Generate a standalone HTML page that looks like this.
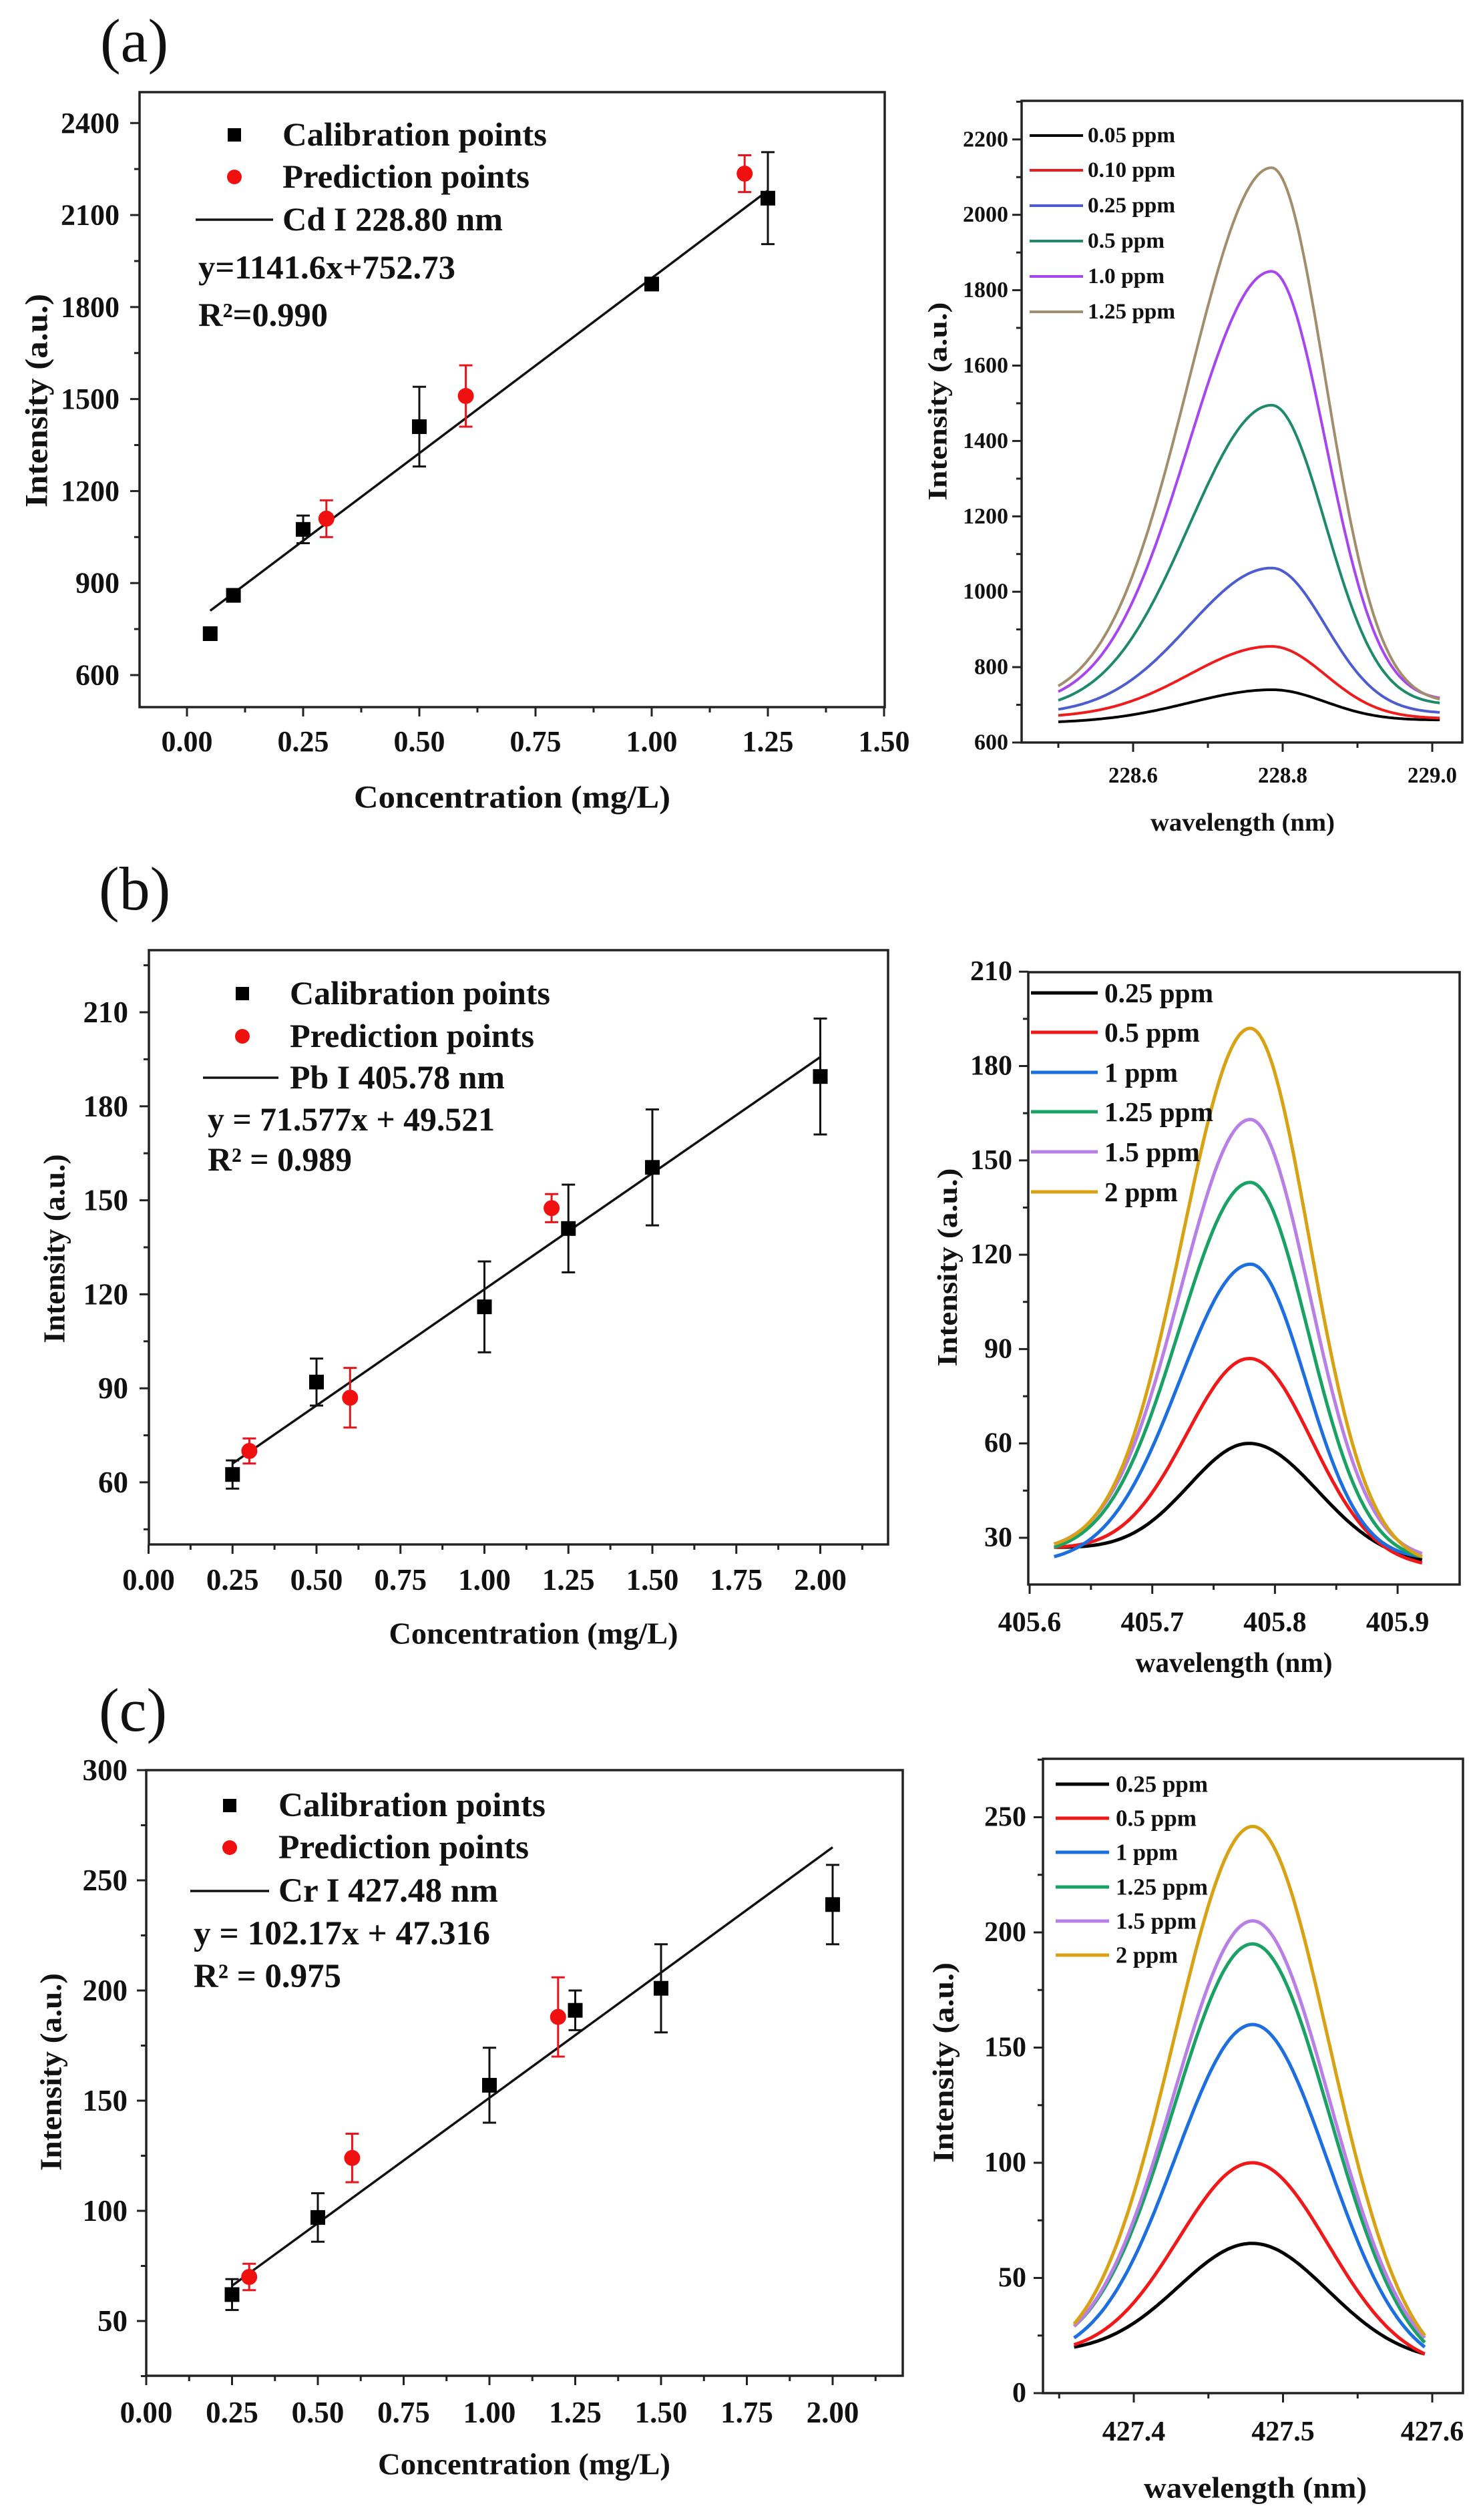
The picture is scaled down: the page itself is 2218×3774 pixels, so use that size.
<!DOCTYPE html>
<html><head><meta charset="utf-8">
<style>
html,body{margin:0;padding:0;background:#fff;}
svg{display:block;}
text{font-family:"Liberation Serif","DejaVu Serif",serif;font-weight:bold;fill:#111;}
</style></head>
<body>
<svg id="s" xmlns="http://www.w3.org/2000/svg" width="2218" height="3774" viewBox="0 0 2218 3774">
<rect width="2218" height="3774" fill="#fff"/>
<text x="150" y="92" font-size="92" style="font-weight:normal">(a)</text>
<text x="148" y="1362" font-size="92" style="font-weight:normal">(b)</text>
<text x="148" y="2592" font-size="92" style="font-weight:normal">(c)</text>
</svg>
<script>
var S=document.getElementById('s'),NS='http://www.w3.org/2000/svg';
function el(t,a,txt){var e=document.createElementNS(NS,t);for(var k in a)e.setAttribute(k,a[k]);if(txt!==undefined)e.textContent=txt;S.appendChild(e);return e;}
function line(x1,y1,x2,y2,c,w){el('line',{x1:x1,y1:y1,x2:x2,y2:y2,stroke:c||'#222','stroke-width':w||3});}
function txt(x,y,s,fs,o){o=o||{};var a={x:x,y:y,'font-size':fs};if(o.anchor)a['text-anchor']=o.anchor;if(o.db)a['dominant-baseline']=o.db;if(o.len){a.textLength=o.len;a.lengthAdjust='spacingAndGlyphs';}if(o.fill)a.fill=o.fill;if(o.tr)a.transform=o.tr;return el('text',a,s);}
function axes(c){
 el('rect',{x:c.L,y:c.T,width:c.R-c.L,height:c.B-c.T,fill:'none',stroke:'#222','stroke-width':3.5});
 c.xt.forEach(function(v){var x=c.xm(v);line(x,c.B,x,c.B+14);txt(x,c.B+c.xlb,c.xf(v),c.fs,{anchor:'middle',len:c.xlen});});
 c.xmi.forEach(function(v){var x=c.xm(v);line(x,c.B,x,c.B+8);});
 c.yt.forEach(function(v){var y=c.ym(v);line(c.L-14,y,c.L,y);txt(c.L-c.ylo,y,String(v),c.fs,{anchor:'end',db:'central',len:c.ylen?c.ylen*String(v).length:undefined});});
 c.ymi.forEach(function(v){var y=c.ym(v);line(c.L-8,y,c.L,y);});
 var t=c.yti;txt(0,0,t.s,t.fs,{anchor:'middle',db:'central',len:t.len,tr:'translate('+t.x+','+t.y+') rotate(-90)'});
 t=c.xti;txt(t.x,t.y,t.s,t.fs,{anchor:'middle',db:'central',len:t.len});
}
function range(a,b,s){var r=[];for(var v=a;v<=b+1e-9;v+=s)r.push(Math.round(v*1000)/1000);return r;}
function pts(c,cal,pred,fit){
 el('polyline',{points:c.xm(fit[0])+','+c.ym(fit[1])+' '+c.xm(fit[2])+','+c.ym(fit[3]),stroke:'#111','stroke-width':3.5,fill:'none'});
 function eb(p,col){var x=c.xm(p[0]),y1=c.ym(p[1]-p[2]),y2=c.ym(p[1]+p[2]);if(p[2]>0){line(x,y1,x,y2,col,3);line(x-10,y1,x+10,y1,col,3);line(x-10,y2,x+10,y2,col,3);}}
 cal.forEach(function(p){eb(p,'#111');el('rect',{x:c.xm(p[0])-11,y:c.ym(p[1])-11,width:22,height:22,fill:'#000'});});
 pred.forEach(function(p){eb(p,'#e8141c');el('circle',{cx:c.xm(p[0]),cy:c.ym(p[1]),r:12,fill:'#f01010'});});
}
function leg(lx,sy,ry,ly,l1,l2,tx,fs,labs,eq){
 el('rect',{x:lx-10,y:sy-10,width:20,height:20,fill:'#000'});
 el('circle',{cx:lx,cy:ry,r:11,fill:'#f01010'});
 line(l1,ly,l2,ly,'#111',3.5);
 txt(tx,sy+16,'Calibration points',fs,{len:labs[0]});
 txt(tx,ry+16,'Prediction points',fs,{len:labs[1]});
 txt(tx,ly+16,labs[2],fs,{len:labs[3]});
 txt(eq[0],eq[1],eq[2],fs,{len:eq[3]});
 txt(eq[0],eq[4],eq[5],fs,{len:eq[6]});
}
function curves(c,cen,w0,w1,sets,lw){
 sets.forEach(function(s){
  var pk=s.pk,lE=s.l,rE=s.r,sL=s.sL,sR=s.sR;
  var gL=Math.exp(-Math.pow(w0-cen,2)/(2*sL*sL)),gR=Math.exp(-Math.pow(w1-cen,2)/(2*sR*sR));
  var bl=lE,br=rE,A;
  for(var i=0;i<20;i++){var bc=bl+(br-bl)*(cen-w0)/(w1-w0);A=pk-bc;bl=lE-A*gL;br=rE-A*gR;}
  var p=[];for(var i=0;i<=160;i++){var w=w0+(w1-w0)*i/160;var sg=w<cen?sL:sR;var v=bl+(br-bl)*(w-w0)/(w1-w0)+A*Math.exp(-Math.pow(w-cen,2)/(2*sg*sg));p.push(c.xm(w).toFixed(1)+','+c.ym(v).toFixed(1));}
  el('polyline',{points:p.join(' '),fill:'none',stroke:s.col,'stroke-width':lw,'stroke-linejoin':'round'});
 });
}
function rleg(x1,x2,tx,ys,fs,items,len,lw){items.forEach(function(it,i){line(x1,ys[i],x2,ys[i],it[1],lw);txt(tx,ys[i],it[0],fs,{db:'central',len:len[i]});});}

/* ---------- (a) left ---------- */
var a1={L:209,T:138,R:1325,B:1059,xm:function(v){return 280+v*696;},ym:function(v){return 1011-(v-600)*0.4593;},
 xt:range(0,1.5,0.25),xmi:range(0.125,1.375,0.25),yt:range(600,2400,300),ymi:range(450,2250,300).filter(function(v){return v>500;}),
 fs:44,xlb:66,ylo:30,xf:function(v){return v.toFixed(2);},
 yti:{x:55,y:600,s:'Intensity (a.u.)',fs:48,len:320},xti:{x:767,y:1194,s:'Concentration (mg/L)',fs:48,len:474}};
axes(a1);
pts(a1,[[0.05,735,0],[0.1,860,0],[0.25,1075,45],[0.5,1410,130],[1.0,1875,0],[1.25,2155,150]],[[0.3,1110,60],[0.6,1510,100],[1.2,2235,60]],[0.05,809.8,1.25,2179.7]);
leg(351,202,265,329,293,409,423,50,[396,370,'Cd I 228.80 nm',330],[297,417,'y=1141.6x+752.73',385,488,'R²=0.990',194]);

/* ---------- (a) right ---------- */
var a2={L:1530,T:151,R:2190,B:1112,xm:function(w){return 1697+(w-228.6)*1120;},ym:function(v){return 1112-(v-600)*0.5645;},
 xt:[228.6,228.8,229.0],xmi:[228.5,228.7,228.9],yt:range(600,2200,200),ymi:range(700,2300,200),
 fs:34,xlb:60,ylo:20,xf:function(v){return v.toFixed(1);},xlen:74,ylen:17,
 yti:{x:1404,y:601,s:'Intensity (a.u.)',fs:40,len:297},xti:{x:1861,y:1232,s:'wavelength (nm)',fs:38,len:276}};
axes(a2);
curves(a2,228.785,228.5,229.01,[
 {pk:740,l:655,r:660,sL:0.11,sR:0.072,col:'#000'},
 {pk:855,l:672,r:665,sL:0.11,sR:0.072,col:'#ee1c1c'},
 {pk:1063,l:688,r:680,sL:0.11,sR:0.072,col:'#4d5dd0'},
 {pk:1495,l:712,r:705,sL:0.11,sR:0.072,col:'#1f8a6a'},
 {pk:1850,l:735,r:718,sL:0.11,sR:0.072,col:'#a745f0'},
 {pk:2125,l:750,r:715,sL:0.11,sR:0.072,col:'#a38e6c'}],4);
rleg(1542,1622,1629,[203,255,308,361,414,467],33,[['0.05 ppm','#000'],['0.10 ppm','#ee1c1c'],['0.25 ppm','#4d5dd0'],['0.5 ppm','#1f8a6a'],['1.0 ppm','#a745f0'],['1.25 ppm','#a38e6c']],[131,131,131,115,115,131],4);

/* ---------- (b) left ---------- */
var b1={L:223,T:1423,R:1330,B:2313,xm:function(v){return 222.5+v*503;},ym:function(v){return 1516+(210-v)*4.693;},
 xt:range(0,2,0.25),xmi:range(0.125,2.125,0.25),yt:range(60,210,30),ymi:range(45,225,30),
 fs:45,xlb:68,ylo:31,xf:function(v){return v.toFixed(2);},
 yti:{x:81,y:1870,s:'Intensity (a.u.)',fs:46,len:283},xti:{x:799,y:2446,s:'Concentration (mg/L)',fs:46,len:433}};
axes(b1);
pts(b1,[[0.25,62.5,4.5],[0.5,92,7.5],[1.0,116,14.5],[1.25,141,14],[1.5,160.5,18.5],[2.0,189.5,18.5]],[[0.3,70,4],[0.6,87,9.5],[1.2,147.5,4.5]],[0.25,66,2.0,195.7]);
leg(363,1488,1552,1614,304,417,434,50,[390,366,'Pb I 405.78 nm',322],[311,1693,'y = 71.577x + 49.521',430,1753,'R² = 0.989',216]);

/* ---------- (b) right ---------- */
var b2={L:1540,T:1456,R:2186,B:2373,xm:function(w){return 1542+(w-405.6)*1837;},ym:function(v){return 2303-(v-30)*4.71;},
 xt:[405.6,405.7,405.8,405.9],xmi:[405.65,405.75,405.85],yt:range(30,210,30),ymi:range(45,195,30),
 fs:42,xlb:70,ylo:24,xf:function(v){return v.toFixed(1);},
 yti:{x:1420,y:1898,s:'Intensity (a.u.)',fs:42,len:297},xti:{x:1848,y:2491,s:'wavelength (nm)',fs:42,len:295}};
axes(b2);
curves(b2,405.78,405.62,405.92,[
 {pk:60,l:27,r:23,sL:0.05,sR:0.055,col:'#000'},
 {pk:87,l:27,r:22,sL:0.052,sR:0.05,col:'#f01818'},
 {pk:117,l:24,r:24,sL:0.058,sR:0.045,col:'#1d6fe0'},
 {pk:143,l:27,r:24,sL:0.058,sR:0.047,col:'#1aa264'},
 {pk:163,l:28,r:25,sL:0.057,sR:0.048,col:'#b87fe6'},
 {pk:192,l:28,r:24,sL:0.055,sR:0.048,col:'#d8a214'}],5);
rleg(1544,1644,1654,[1487,1546,1606,1665,1725,1785],41,[['0.25 ppm','#000'],['0.5 ppm','#f01818'],['1 ppm','#1d6fe0'],['1.25 ppm','#1aa264'],['1.5 ppm','#b87fe6'],['2 ppm','#d8a214']],[163,143,110,163,143,110],5);

/* ---------- (c) left ---------- */
var c1={L:219,T:2651,R:1352,B:3558,xm:function(v){return 219+v*514;},ym:function(v){return 3476-(v-50)*3.3;},
 xt:range(0,2,0.25),xmi:range(0.125,2.125,0.25),yt:range(50,300,50),ymi:range(25,275,50),
 fs:45,xlb:70,ylo:28,xf:function(v){return v.toFixed(2);},
 yti:{x:76,y:3103,s:'Intensity (a.u.)',fs:46,len:296},xti:{x:785,y:3690,s:'Concentration (mg/L)',fs:46,len:438}};
axes(c1);
pts(c1,[[0.25,62,7],[0.5,97,11],[1.0,157,17],[1.25,191,9],[1.5,201,20],[2.0,239,18]],[[0.3,70,6],[0.6,124,11],[1.2,188,18]],[0.25,66,2.0,265]);
leg(344,2704,2767,2832,285,403,417,51,[400,375,'Cr I 427.48 nm',329],[290,2912,'y = 102.17x + 47.316',444,2976,'R² = 0.975',221]);

/* ---------- (c) right ---------- */
var c2={L:1562,T:2634,R:2191,B:3584,xm:function(w){return 1698+(w-427.4)*2235;},ym:function(v){return 3584-v*3.45;},
 xt:[427.4,427.5,427.6],xmi:[427.35,427.45,427.55],yt:range(0,250,50),ymi:range(25,275,50),
 fs:42,xlb:71,ylo:25,xf:function(v){return v.toFixed(1);},
 yti:{x:1413,y:3089,s:'Intensity (a.u.)',fs:44,len:300},xti:{x:1880,y:3726,s:'wavelength (nm)',fs:44,len:334}};
axes(c2);
curves(c2,427.48,427.36,427.595,[
 {pk:65,l:20,r:17,sL:0.05,sR:0.05,col:'#000'},
 {pk:100,l:21,r:17,sL:0.05,sR:0.05,col:'#f01818'},
 {pk:160,l:24,r:20,sL:0.052,sR:0.05,col:'#1d6fe0'},
 {pk:195,l:29,r:22,sL:0.053,sR:0.051,col:'#1aa264'},
 {pk:205,l:29,r:24,sL:0.053,sR:0.051,col:'#b87fe6'},
 {pk:246,l:30,r:25,sL:0.053,sR:0.051,col:'#d8a214'}],5);
rleg(1581,1661,1671,[2672,2723,2774,2826,2877,2928],35,[['0.25 ppm','#000'],['0.5 ppm','#f01818'],['1 ppm','#1d6fe0'],['1.25 ppm','#1aa264'],['1.5 ppm','#b87fe6'],['2 ppm','#d8a214']],[138,121,93,138,121,93],5);
</script>
</body></html>
